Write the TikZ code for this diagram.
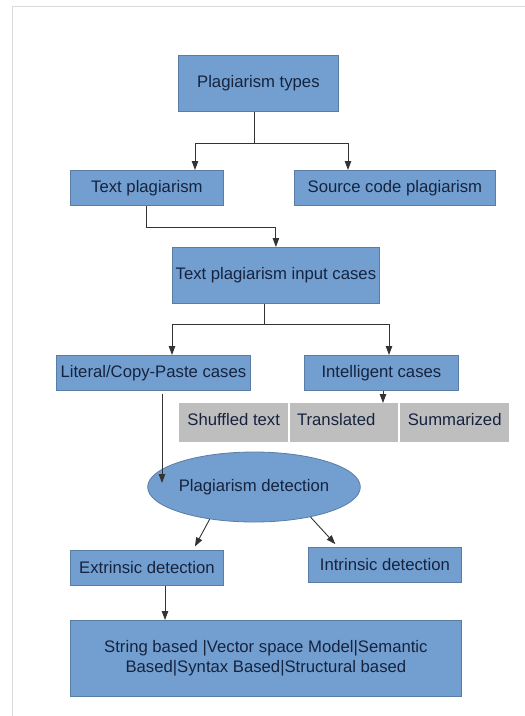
\documentclass[tikz,border=0pt]{standalone}
\usepackage{fontspec}
\setmainfont{Liberation Sans}
\usetikzlibrary{arrows.meta,shapes.geometric}
\definecolor{boxblue}{HTML}{729FCF}
\definecolor{boxedge}{HTML}{5A7DA6}
\definecolor{txtcol}{HTML}{16233F}
\definecolor{graybox}{HTML}{BEBEBE}
\definecolor{framecol}{HTML}{DADADA}
\definecolor{linecol}{HTML}{333333}
\begin{document}
\begin{tikzpicture}[x=1pt,y=-1pt,
  box/.style={draw=boxedge, fill=boxblue, line width=0.8pt, text=txtcol,
    font=\fontsize{16.7}{20}\selectfont, inner sep=0pt, anchor=north west, align=center},
  gbox/.style={fill=graybox, text=txtcol, font=\fontsize{16.7}{20}\selectfont,
    inner sep=0pt, anchor=north west, minimum width=109pt, minimum height=39pt},
  arr/.style={draw=linecol, line width=0.9pt, -{Triangle[length=9pt,width=6.5pt]}},
  ln/.style={draw=linecol, line width=0.9pt}]
\useasboundingbox (0,0) rectangle (525,716);
\draw[framecol, line width=1pt] (12,716) -- (12,6) -- (525,6);

% nodes
\node[box, minimum width=160pt, minimum height=56pt] (pt) at (178,55) {Plagiarism types};
\node[box, minimum width=153pt, minimum height=35pt] (tp) at (70,170) {Text plagiarism};
\node[box, minimum width=201pt, minimum height=35pt] (sc) at (294,170) {Source code plagiarism};
\node[box, minimum width=207pt, minimum height=56pt] (ic) at (172,247) {Text plagiarism input cases};
\node[box, minimum width=194pt, minimum height=35pt] (lc) at (56,355) {Literal/Copy-Paste cases};
\node[box, minimum width=154pt, minimum height=35pt] (it) at (304,355) {Intelligent cases};
\node[gbox] (sh) at (179,403) {\raisebox{7pt}{Shuffled text}};
\node[gbox, minimum width=108pt] (tr) at (290,403) {\raisebox{7pt}{\hspace*{-16pt}Translated}};
\node[gbox] (su) at (400,403) {\raisebox{7pt}{Summarized}};
\node[ellipse, draw=boxedge, fill=boxblue, line width=0.8pt, text=txtcol,
  font=\fontsize{16.7}{20}\selectfont, inner sep=0pt,
  minimum width=178pt, minimum height=70pt] (pd) at (254,487) {Plagiarism detection};
\node[box, minimum width=153pt, minimum height=35pt] (ed) at (70,550) {Extrinsic detection};
\node[box, minimum width=153pt, minimum height=35pt] (id) at (308,547) {Intrinsic detection};
\node[box, minimum width=391pt, minimum height=76pt] (sb) at (70,620)
  {String based |Vector space Model|Semantic\\Based|Syntax Based|Structural based};

% helper coordinates
\coordinate (j1) at (254,143);
\coordinate (a1) at (195,0);
\coordinate (a2) at (348,0);
\coordinate (j2) at (0,227);
\coordinate (s3) at (264,0);
\coordinate (j3) at (0,324);
\coordinate (b1) at (172,0);
\coordinate (b2) at (389,0);
\coordinate (c1) at (383,0);
\coordinate (d1) at (162,0);
\coordinate (d2) at (162,483);
\coordinate (e1) at (193,0);
\coordinate (e2) at (338,0);
\coordinate (f1) at (165,0);

% connectors
\draw[ln] (pt.south -| j1) -- (j1);
\draw[arr] (j1) -| (tp.north -| a1);
\draw[arr] (j1) -| (sc.north -| a2);
\draw[arr] (tp.south) -- (tp.south |- j2) -| (ic.north);
\draw[ln] (ic.south -| s3) -- (s3 |- j3);
\draw[arr] (s3 |- j3) -| (lc.north -| b1);
\draw[arr] (s3 |- j3) -| (it.north -| b2);
\draw[arr] (it.south -| c1) -- (tr.north -| c1);
\draw[arr, shorten <=3pt] (lc.south -| d1) -- (d2);
\draw[arr, shorten >=4pt] (pd.216) -- (ed.north -| e1);
\draw[arr, shorten >=4pt] (pd.332) -- (id.north -| e2);
\draw[arr] (ed.south -| f1) -- (sb.north -| f1);
\end{tikzpicture}
\end{document}
